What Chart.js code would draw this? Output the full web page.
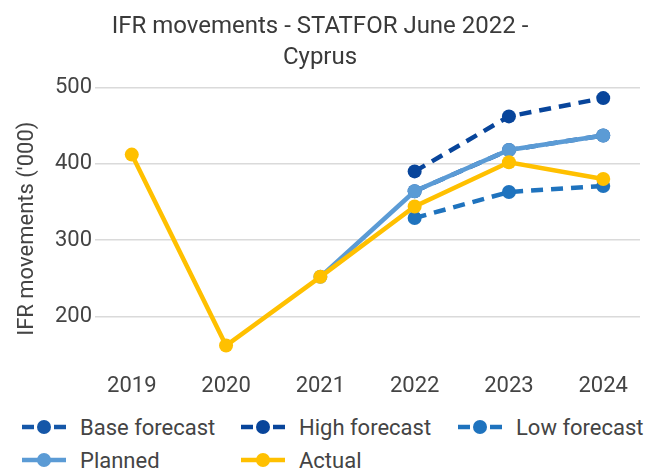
<!DOCTYPE html>
<html>
<head>
<meta charset="utf-8">
<script src="https://cdn.jsdelivr.net/npm/chart.js@4.4.0/dist/chart.umd.min.js"></script>
<style>
    body { margin: 0; background: #fff; font-family: Roboto, sans-serif; }
    #wrap { position: relative; width: 650px; height: 470px; overflow: hidden; }
    #chart { position: absolute; left: 0; top: 0; }
    .legend { position: absolute; left: 0; top: 0; width: 650px; }
    .item { position: absolute; height: 30px; display: flex; align-items: center;
            font-size: 22px; color: #444; white-space: nowrap; }
    .item svg { margin-right: 14px; }
</style>
</head>
<body>
<div id="wrap">
    <canvas id="chart" width="650" height="400"></canvas>
    <div class="legend" id="legend"></div>
</div>
<script>
// Values ('000 movements)
const years = [2019, 2020, 2021, 2022, 2023, 2024];
const baseForecast = [null, null, null, 364, 418, 437];
const highForecast = [null, null, null, 390, 462, 486];
const lowForecast = [null, null, null, 329, 363, 371];
const planned = [null, null, 252, 364, 418, 437];
const actual = [412, 162, 252, 344, 402, 380];
const yTicks = [200, 300, 400, 500];

const FONT = 'Roboto';

function points(values) {
    return years.map((x, i) => ({x: x, y: values[i]}));
}

function series(label, values, color, dashed, order) {
    return {
        label: label,
        data: points(values),
        borderColor: color,
        backgroundColor: color,
        borderWidth: 4.5,
        borderDash: dashed ? [12, 8] : [],
        pointRadius: 7,
        pointHoverRadius: 7,
        pointBorderWidth: 0,
        pointBackgroundColor: color,
        spanGaps: false,
        order: order
    };
}

const datasets = [
    series('Base forecast', baseForecast, '#1557a8', true, 5),
    series('High forecast', highForecast, '#08459b', true, 4),
    series('Low forecast', lowForecast, '#1f73be', true, 3),
    series('Planned', planned, '#5b9bd5', false, 2),
    series('Actual', actual, '#ffc000', false, 1)
];

new Chart(document.getElementById('chart'), {
    type: 'line',
    data: {datasets: datasets},
    options: {
        responsive: false,
        animation: false,
        layout: {padding: {left: 0, right: 10, top: 0, bottom: 0}},
        plugins: {
            legend: {display: false},
            tooltip: {enabled: false},
            title: {
                display: true,
                text: ['IFR movements - STATFOR June 2022 -', 'Cyprus'],
                color: '#3a3a3a',
                font: {family: FONT, size: 24, weight: 'normal', lineHeight: 1.3},
                padding: {top: 11, bottom: 14}
            }
        },
        scales: {
            x: {
                type: 'linear',
                min: 2018.61,
                max: 2024.39,
                afterBuildTicks: s => { s.ticks = years.map(v => ({value: v})); },
                afterFit: s => { s.height = 30; },
                grid: {display: false, drawTicks: false, tickLength: 0},
                border: {display: false},
                ticks: {
                    color: '#444',
                    font: {family: FONT, size: 22},
                    padding: 3,
                    maxRotation: 0,
                    callback: v => String(v)
                }
            },
            y: {
                min: 130,
                max: 500,
                afterBuildTicks: s => { s.ticks = yTicks.map(v => ({value: v})); },
                afterFit: s => { s.width = 95; },
                grid: {color: '#dadada', lineWidth: 1.5, drawTicks: false, tickLength: 0},
                border: {display: false},
                ticks: {
                    color: '#444',
                    font: {family: FONT, size: 22},
                    padding: 3
                },
                title: {
                    display: true,
                    text: "IFR movements ('000)",
                    color: '#444',
                    font: {family: FONT, size: 22},
                    padding: {top: 14, bottom: 0}
                }
            }
        }
    }
});

// Legend laid out in columns like the reference
const legendPos = [
    {x: 22, y: 427}, {x: 241, y: 427}, {x: 458, y: 427},
    {x: 22, y: 460}, {x: 241, y: 460}
];

function symbol(color, dashed) {
    const line = dashed
        ? '<line x1="0" y1="8" x2="12" y2="8" stroke="' + color + '" stroke-width="4.5"/>' +
          '<line x1="32" y1="8" x2="44" y2="8" stroke="' + color + '" stroke-width="4.5"/>'
        : '<line x1="0" y1="8" x2="44" y2="8" stroke="' + color + '" stroke-width="4.5"/>';
    return '<svg width="44" height="16">' + line +
        '<circle cx="22" cy="8" r="7" fill="' + color + '"/></svg>';
}

const legend = document.getElementById('legend');
datasets.forEach((ds, i) => {
    const el = document.createElement('div');
    el.className = 'item';
    el.style.left = legendPos[i].x + 'px';
    el.style.top = (legendPos[i].y - 15) + 'px';
    el.innerHTML = symbol(ds.borderColor, ds.borderDash.length > 0) + '<span>' + ds.label + '</span>';
    legend.appendChild(el);
});
</script>
</body>
</html>
